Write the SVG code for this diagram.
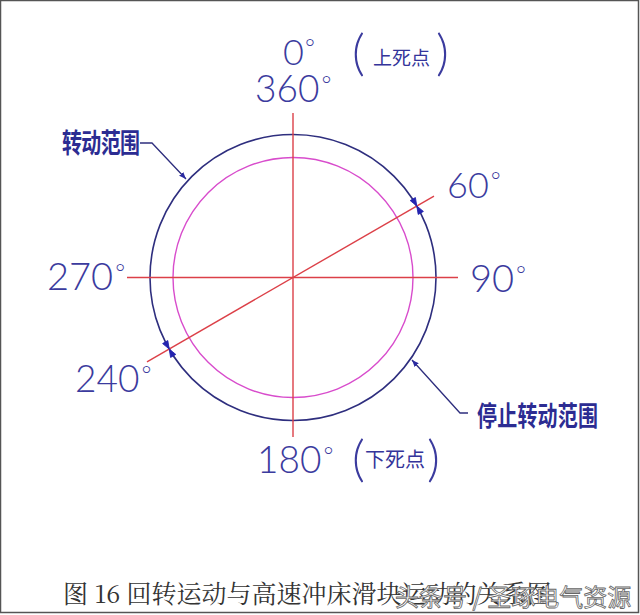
<svg xmlns="http://www.w3.org/2000/svg" width="640" height="615" viewBox="0 0 640 615">
  <style>
    .num { font-family: Lato, "DejaVu Sans", "Liberation Sans", sans-serif; font-weight: 300; fill: #3b3b9e; }
    .deg { font-size: 24px; }
    .paren { font-family: Lato, "DejaVu Sans", sans-serif; font-weight: 300; fill: #3b3b9e; font-size: 50px; }
    .cjk { font-family: "Noto Sans CJK SC", sans-serif; fill: #34349a; }
    .lbl { font-family: "Noto Sans CJK SC", sans-serif; font-weight: bold; fill: #2c2c92; font-size: 20px; }
    .axis { stroke: #dc4048; stroke-width: 1.4; fill: none; }
    .leader { stroke: #2e2e7e; stroke-width: 1.3; fill: none; }
    .cap { font-family: "Noto Serif CJK SC", "Noto Sans CJK SC", serif; fill: #333; font-size: 25px; }
  </style>
  <defs>
    <marker id="arr" viewBox="0 0 10 10" refX="10" refY="5" markerWidth="7" markerHeight="7" orient="auto" markerUnits="userSpaceOnUse">
      <path d="M0,1 L10,5 L0,9 Z" fill="#2a2aa0"/>
    </marker>
    <path id="bowtie" d="M-8,-3 L0,0 L-8,3 Z M8,-3 L0,0 L8,3 Z" fill="#2424b0" stroke="#2424b0" stroke-width="0.8"/>
  </defs>
  <rect x="0.5" y="0.5" width="638" height="612" fill="#ffffff" stroke="#555" stroke-width="1.5"/>

  <g id="circles">
    <circle id="outer" cx="293" cy="277.5" r="143" fill="none" stroke="#2e2e7e" stroke-width="1.6"/>
    <circle id="inner" cx="293" cy="277.5" r="120" fill="none" stroke="#d84ccc" stroke-width="1.4"/>
  </g>

  <g id="connectors">
    <line class="axis" x1="293" y1="113" x2="293" y2="437"/>
    <line class="axis" x1="127" y1="277.5" x2="458" y2="277.5"/>
    <line class="axis" x1="147" y1="361.8" x2="434" y2="196.1"/>
    <path class="leader" d="M140,143 H152 L186,179" marker-end="url(#arr)"/>
    <path class="leader" d="M468,413 H460 L412,360" marker-end="url(#arr)"/>
    <use href="#bowtie" transform="translate(416.8,206) rotate(60)"/>
    <use href="#bowtie" transform="translate(169.2,349) rotate(60)"/>
  </g>

  <g id="top-label">
    <text class="num" x="283" y="65" font-size="36">0<tspan class="deg" dx="1" dy="-9">°</tspan></text>
    <text class="num" x="255" y="102" font-size="37">360<tspan class="deg" dx="2" dy="-9">°</tspan></text>
    <text class="paren" x="352" y="70">(</text>
    <text class="cjk" x="373" y="65" font-size="19">上死点</text>
    <text class="paren" x="436" y="70">)</text>
  </g>
  <g id="label-60"><text class="num" x="447" y="198" font-size="36">60<tspan class="deg" dx="2" dy="-9">°</tspan></text></g>
  <g id="label-270"><text class="num" x="47" y="290" font-size="38">270<tspan class="deg" dx="2" dy="-9">°</tspan></text></g>
  <g id="label-90"><text class="num" x="470" y="292" font-size="38">90<tspan class="deg" dx="2" dy="-9">°</tspan></text></g>
  <g id="label-240"><text class="num" x="75" y="392" font-size="37">240<tspan class="deg" dx="2" dy="-9">°</tspan></text></g>
  <g id="bottom-label">
    <text class="num" x="257" y="473" font-size="37">180<tspan class="deg" dx="2" dy="-9">°</tspan></text>
    <text class="paren" x="352" y="476">(</text>
    <text class="cjk" x="365" y="467" font-size="20">下死点</text>
    <text class="paren" x="427" y="476">)</text>
  </g>
  <g id="label-rotation">
    <text class="lbl" transform="translate(62,153) scale(1,1.35)" textLength="78">转动范围</text>
  </g>
  <g id="label-stop">
    <text class="lbl" transform="translate(477,426) scale(1,1.38)" textLength="121">停止转动范围</text>
  </g>
  <g id="caption">
    <text class="cap" x="63" y="603">图 16  回转运动与高速冲床滑块运动的关系图</text>
    <text x="395" y="606" font-family="Noto Sans CJK SC, sans-serif" font-size="24" fill="#ffffff" stroke="#666" stroke-width="0.8">头条号 / 圣琢电气资源</text>
  </g>
</svg>
